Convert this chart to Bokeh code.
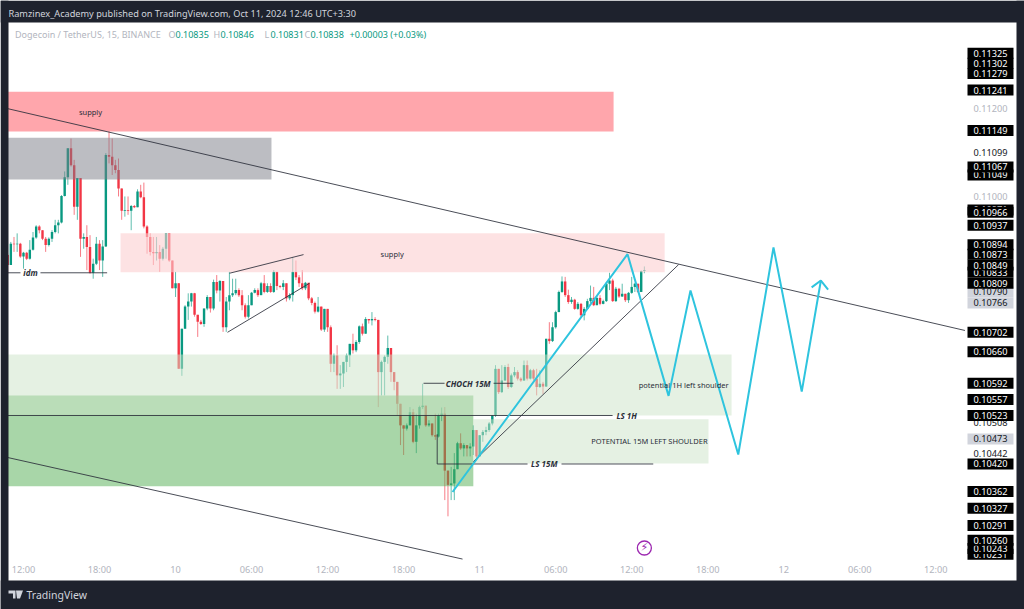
from bokeh.plotting import figure
from bokeh.embed import file_html
from bokeh.resources import INLINE
from bokeh.models import Range1d, FixedTicker, PrintfTickFormatter, Label, BoxAnnotation, PolyAnnotation
from bokeh.core.properties import value
import numpy as np

# 15-minute candles: close, high, low (each open is the close before it)
first_open = 0.10871
close = [.10849,.10896,.10895,.10896,.10868,.10876,.10863,.10883,.10910,.10934,.10926,.10907,.10893,.10907,.10922,.10937,.10943,.11002,.11044,.11109,
.11071,.10978,.11042,.10907,.10911,.10889,.10832,.10852,.10896,.10859,.10890,.11094,.11090,.11071,.11060,.11019,.10969,.10971,.10969,.10980,
.10977,.11012,.10999,.10934,.10911,.10878,.10875,.10878,.10863,.10885,.10919,.10859,.10798,.10809,.10623,.10710,.10758,.10769,.10787,.10740,
.10725,.10720,.10754,.10779,.10754,.10812,.10793,.10814,.10713,.10769,.10783,.10787,.10794,.10783,.10761,.10736,.10761,.10788,.10794,.10783,
.10809,.10790,.10803,.10790,.10834,.10803,.10801,.10809,.10776,.10783,.10834,.10822,.10809,.10798,.10810,.10776,.10766,.10747,.10758,.10708,
.10753,.10713,.10634,.10652,.10609,.10613,.10638,.10652,.10677,.10663,.10681,.10715,.10699,.10731,.10728,.10731,.10729,.10616,.10638,.10649,
.10668,.10616,.10595,.10548,.10502,.10495,.10502,.10530,.10467,.10502,.10541,.10544,.10502,.10506,.10481,.10478,.10523,.10527,.10406,.10376,
.10379,.10409,.10464,.10453,.10460,.10453,.10457,.10492,.10436,.10481,.10488,.10492,.10506,.10523,.10623,.10573,.10598,.10627,.10584,.10609,
.10616,.10602,.10598,.10631,.10602,.10620,.10602,.10584,.10591,.10585,.10688,.10683,.10713,.10746,.10790,.10813,.10783,.10768,.10773,.10753,
.10764,.10739,.10753,.10770,.10777,.10761,.10777,.10764,.10770,.10808,.10815,.10770,.10797,.10780,.10786,.10772,.10788,.10801,.10808,.10790,
.10836,.10838]
high = [.10874,.10900,.10911,.10919,.10898,.10878,.10878,.10904,.10922,.10937,.10937,.10926,.10911,.10910,.10926,.10949,.10949,.11004,.11057,.11109,
.11131,.11083,.11042,.11042,.10919,.10937,.10915,.10863,.10911,.10904,.10904,.11098,.11153,.11131,.11083,.11086,.11019,.11001,.11001,.10982,
.10982,.11017,.11027,.11032,.10937,.10919,.10911,.10911,.10893,.10889,.10919,.10919,.10859,.10834,.10809,.10710,.10761,.10787,.10788,.10788,
.10740,.10729,.10754,.10783,.10779,.10817,.10827,.10816,.10814,.10779,.10834,.10819,.10819,.10798,.10794,.10765,.10783,.10790,.10798,.10798,
.10812,.10827,.10809,.10809,.10838,.10834,.10805,.10816,.10809,.10787,.10867,.10859,.10827,.10838,.10812,.10810,.10779,.10769,.10779,.10758,
.10753,.10753,.10717,.10656,.10674,.10631,.10638,.10656,.10677,.10699,.10685,.10717,.10721,.10735,.10731,.10746,.10735,.10729,.10641,.10652,
.10695,.10668,.10616,.10595,.10548,.10502,.10506,.10541,.10537,.10527,.10544,.10591,.10544,.10513,.10506,.10527,.10527,.10540,.10541,.10406,
.10414,.10443,.10467,.10485,.10464,.10460,.10464,.10502,.10492,.10481,.10492,.10499,.10509,.10523,.10631,.10623,.10631,.10631,.10634,.10613,
.10627,.10620,.10605,.10641,.10641,.10623,.10623,.10623,.10620,.10595,.10688,.10724,.10724,.10749,.10793,.10824,.10823,.10795,.10779,.10775,
.10768,.10766,.10757,.10775,.10804,.10801,.10783,.10783,.10773,.10812,.10832,.10819,.10801,.10799,.10808,.10786,.10790,.10823,.10810,.10808,
.10837,.10846]
low = [.10830,.10867,.10878,.10878,.10865,.10841,.10860,.10861,.10881,.10907,.10919,.10904,.10878,.10890,.10900,.10919,.10919,.10941,.11001,.11027,
.11068,.10960,.10949,.10867,.10885,.10838,.10830,.10819,.10849,.10838,.10823,.10889,.11075,.11049,.11053,.11001,.10949,.10956,.10960,.10926,
.10975,.10977,.10997,.10930,.10874,.10870,.10849,.10859,.10834,.10859,.10863,.10856,.10798,.10779,.10623,.10608,.10710,.10729,.10758,.10736,
.10692,.10718,.10714,.10750,.10745,.10750,.10787,.10769,.10703,.10703,.10750,.10779,.10783,.10779,.10750,.10732,.10732,.10761,.10787,.10779,
.10783,.10787,.10788,.10788,.10788,.10794,.10798,.10794,.10769,.10772,.10769,.10816,.10801,.10794,.10794,.10772,.10761,.10743,.10745,.10705,
.10703,.10703,.10616,.10616,.10580,.10580,.10584,.10616,.10627,.10656,.10659,.10677,.10695,.10699,.10721,.10717,.10726,.10541,.10566,.10566,
.10634,.10595,.10577,.10523,.10460,.10439,.10491,.10502,.10464,.10443,.10495,.10537,.10499,.10499,.10478,.10471,.10476,.10511,.10344,.10310,
.10344,.10344,.10409,.10450,.10436,.10436,.10436,.10439,.10432,.10436,.10467,.10481,.10488,.10502,.10520,.10569,.10571,.10597,.10580,.10582,
.10605,.10598,.10595,.10597,.10598,.10600,.10598,.10566,.10582,.10569,.10584,.10677,.10681,.10710,.10746,.10788,.10779,.10764,.10764,.10751,
.10751,.10734,.10728,.10753,.10766,.10759,.10761,.10761,.10763,.10768,.10794,.10768,.10768,.10777,.10779,.10768,.10766,.10786,.10790,.10788,
.10790,.10831]
first_bar_hour = 10.75   # hours from Oct 9, 00:00

# Zones: left/right hour, top/bottom price (later zones lie over earlier ones)
zone_left   = [10.7, 10.7, 10.7, 19.66, 10.7, 47.5]
zone_right  = [58.57, 31.57, 47.5, 62.6, 67.88, 66.06]
zone_top    = [.11237, .11133, .10566, .10919, .10654, .10515]
zone_bottom = [.11147, .11039, .10373, .10833, .10523, .10421]
zone_color  = ["#FFA6AC", "#797B85", "#51AD51", "#FCCFD0", "#CBE3C7", "#CBE3C7"]
zone_alpha  = [1, .5, .5, .6, .5, .5]

# Drawn lines: start hour, end hour, start price, end price
line_x0 = [10.7, 10.7, 28.26, 28.1, 10.7, 13.34, 43.57, 49.1, 10.7, 44.65, 44.65, 54.46, 47.5]
line_x1 = [86.3, 46.65, 34.1, 34.57, 11.76, 18.6, 45.23, 50.67, 58.49, 44.65, 51.78, 61.7, 63.7]
line_y0 = [.11199, .10434, .10831, .10702, .10832, .10832, .10592, .10592, .10523, .10483, .10420, .10420, .10425]
line_y1 = [.10706, .10221, .10872, .10809, .10832, .10832, .10592, .10592, .10523, .10420, .10420, .10420, .10850]

# Projected path (cyan)
path_hours  = [45.86, 59.67, 62.91, 64.64, 68.41, 71.19, 73.42, 74.93]
path_prices = [.10361, .10873, .10565, .10793, .10440, .10888, .10574, .10815]
arrow_hours  = [74.2, 74.93, 75.5]
arrow_prices = [.10800, .10815, .10795]

# Chart notes
note_hours = [17.29, 41.1, 64.1, 61.4]
note_prices = [.11191, .10874, .10589, .10468]
note_text = ["supply", "supply", "potential 1H left shoulder", "POTENTIAL 15M LEFT SHOULDER"]
tag_hours = [12.55, 47.1, 59.6, 53.1]
tag_prices = [.10832, .10592, .10523, .10420]
tag_text = ["idm", "CHOCH 15M", "LS 1H", "LS 15M"]

# Axes
tick_hours = [12, 18, 24, 30, 36, 42, 48, 54, 60, 66, 72, 78, 84]
tick_text = ["12:00", "18:00", "10", "06:00", "12:00", "18:00", "11", "06:00", "12:00", "18:00", "12", "06:00", "12:00"]
axis_prices = [.11200, .11000]
black_tags = [.11325,.11302,.11279,.11241,.11149,.11049,.11067,.10971,.10966,.10937,.10833,.10894,.10873,.10849,.10809,
              .10702,.10660,.10592,.10557,.10523,.10420,.10362,.10327,.10291,.10231,.10243,.10260]
grey_tags = [.10790, .10766, .10473]
plain_tags = [.11099, .10508, .10442]

W, H = 1024, 609
sy = lambda py: H - py

p = figure(width=W, height=H, frame_width=W, frame_height=H, output_backend="svg", toolbar_location=None, y_axis_type="log",
           x_axis_location="below", y_axis_location="right",
           x_range=Range1d(10.185, 91.0), y_range=Range1d(.10117, .11447),
           min_border=0,
           border_fill_color="white", background_fill_color="white", outline_line_color=None)
p.grid.visible = False

AF = "Noto Sans"
p.xaxis.ticker = FixedTicker(ticks=tick_hours)
p.xaxis.major_label_overrides = dict(zip(tick_hours, tick_text))
p.yaxis.ticker = FixedTicker(ticks=axis_prices)
p.yaxis.formatter = PrintfTickFormatter(format="%.5f")
for ax in (p.xaxis[0], p.yaxis[0]):
    ax.axis_line_color = None
    ax.major_tick_line_color = None
    ax.minor_tick_line_color = None
    ax.major_label_text_color = "#B2B5BE"
    ax.major_label_text_font = AF
    ax.major_label_text_font_size = "9.2px"
p.xaxis.major_label_standoff = -53
p.yaxis.major_label_standoff = -57

# Candles
c = np.array(close)
o = np.r_[first_open, c[:-1]]
t = first_bar_hour + np.arange(len(c)) * 0.25
colors = ["#089981" if a >= b else "#F23645" for a, b in zip(c, o)]
p.segment(t, low, t, high, line_color=colors, line_width=1, line_alpha=0.65)
p.vbar(x=t, width=0.19, top=np.maximum(o, c), bottom=np.minimum(o, c), fill_color=colors, line_color=None)

# Zones on top of candles
p.quad(left=zone_left, right=zone_right, top=zone_top, bottom=zone_bottom,
       fill_color=zone_color, fill_alpha=zone_alpha, line_color=None)

# Lines and path
p.segment(line_x0, line_y0, line_x1, line_y1, line_color="#2A2E39", line_width=1, line_alpha=0.85)
p.line(path_hours, path_prices, line_color="#2EC4DE", line_width=2)
p.line(arrow_hours, arrow_prices, line_color="#2EC4DE", line_width=2)

# Notes
p.text(note_hours, note_prices, text=note_text, text_font=value(AF), text_font_size="7.5px", text_color="#2A2E39",
       text_align="center", text_baseline="middle")
p.text(tag_hours, tag_prices, text=tag_text, text_font=value(AF), text_font_size="8px", text_font_style="bold italic",
       text_color="#2A2E39", text_align="center", text_baseline="middle")

# Lightning marker
p.scatter([61.0], [.10244], marker="circle", size=14, fill_color="white", line_color="#9C27B0", line_width=1.3)
p.text([61.0], [.10244], text=["\u26a1"], text_font=value("DejaVu Sans"), text_font_size="11px", text_color="#9C27B0",
       text_align="center", text_baseline="middle")

# Price tags in the scale column
def tag(price, bg, fg):
    p.add_layout(Label(x=990, x_units="screen", y=price, y_units="data", text=f"{price:.5f}",
                       text_align="center", text_baseline="middle", text_font=AF, text_font_size="9.2px",
                       text_color=fg, background_fill_color=bg, padding=(6, 2)))
for v in grey_tags:
    tag(v, "#D1D4DC", "#131722")
for v in plain_tags:
    tag(v, None, "#131722")
for v in black_tags:
    tag(v, "black", "white")

# Dark frame
DARK = "#1E222D"
for (l, r, tp, b) in [(0, 8, 0, H), (1016, W, 0, H), (0, W, 0, 22), (0, W, 580, H)]:
    p.add_layout(BoxAnnotation(left=l, right=r, top=sy(tp), bottom=sy(b),
                               left_units="screen", right_units="screen", top_units="screen", bottom_units="screen",
                               fill_color=DARK, fill_alpha=1, line_color=None, level="overlay"))

def text_at(px, py, txt, color, size="9.2px", font=AF, style="normal"):
    p.add_layout(Label(x=px, y=sy(py), x_units="screen", y_units="screen", text=txt, text_color=color,
                       text_font=font, text_font_size=size, text_font_style=style,
                       text_align="left", text_baseline="middle", level="overlay"))

text_at(8, 12.5, "Ramzinex_Academy published on TradingView.com, Oct 11, 2024 12:46 UTC+3:30", "#D1D4DC")
GR, UP = "#B2B5BE", "#089981"
text_at(14.5, 34, "Dogecoin / TetherUS, 15, BINANCE", GR, "9px")
for px, txt, col in [(168, "O", GR), (175, "0.10835", UP), (213, "H", GR), (220, "0.10846", UP),
                     (264, "L", GR), (270, "0.10831", UP), (304, "C", GR), (310, "0.10838", UP),
                     (349, "+0.00003 (+0.03%)", UP)]:
    text_at(px, 34, txt, col, "9px")
text_at(26, 594, "TradingView", "#D1D4DC", "10.5px")

# Logo
p.add_layout(PolyAnnotation(xs=[8, 15, 15, 12.5, 12.5, 8],
                            ys=[sy(v) for v in [590, 590, 598, 598, 593, 593]],
                            xs_units="screen", ys_units="screen", fill_color="#D1D4DC", fill_alpha=1,
                            line_color=None, level="overlay"))
p.add_layout(PolyAnnotation(xs=[15.5, 22.5, 19.5, 16.5],
                            ys=[sy(v) for v in [590, 590, 598, 598]],
                            xs_units="screen", ys_units="screen", fill_color="#D1D4DC", fill_alpha=1,
                            line_color=None, level="overlay"))

open("out.html", "w").write(file_html(p, INLINE))
